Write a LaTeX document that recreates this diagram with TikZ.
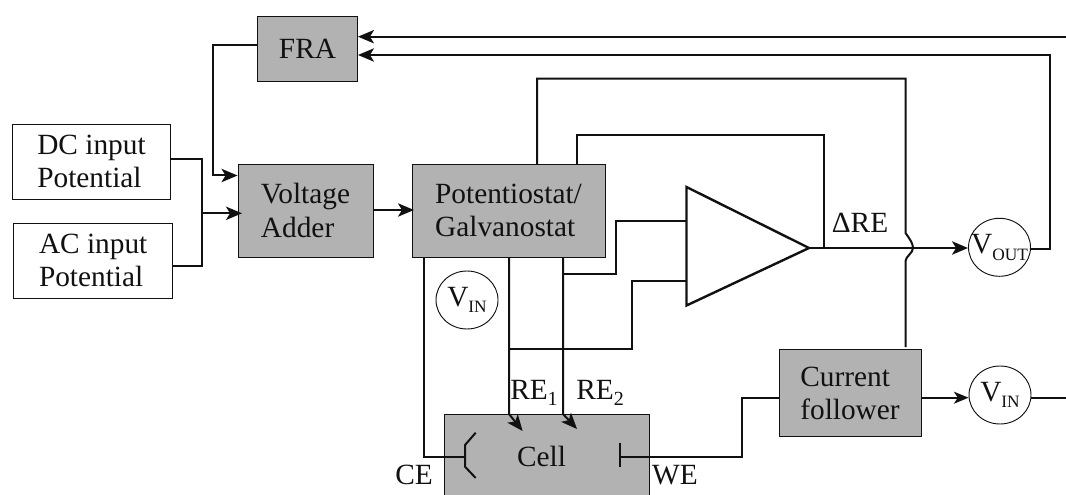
\documentclass[tikz,border=0pt]{standalone}
\usepackage{fontspec}
\setmainfont{Liberation Serif}
\usetikzlibrary{arrows.meta,shapes.geometric}
\definecolor{boxgray}{HTML}{B2B2B2}
\definecolor{inkc}{HTML}{111111}
\newcommand{\subsc}[1]{\raisebox{-0.5ex}{\fontsize{13}{13}\selectfont #1}}
\newcommand{\subnum}[1]{\raisebox{-0.5ex}{\fontsize{15}{15}\selectfont #1}}
\newcommand{\metertext}[1]{\makebox[0pt]{\raisebox{1.5pt}{V\subsc{#1}}}}
\tikzset{
  x=0.75pt,y=-0.75pt,
  basebox/.style={draw=inkc,line width=0.7pt,inner sep=0pt,align=left,font=\fontsize{22}{25}\selectfont,text=inkc},
  whitebox/.style={basebox,fill=white},
  graybox/.style={basebox,fill=boxgray},
  meter/.style={draw=inkc,line width=0.7pt,fill=white,ellipse,inner sep=0pt,minimum width=46.5pt,minimum height=43.5pt,font=\fontsize{22}{25}\selectfont,text=inkc},
  lbl/.style={inner sep=0pt,font=\fontsize{22}{25}\selectfont,text=inkc},
  wire/.style={draw=inkc,line width=1.5pt,line join=miter},
  thinwire/.style={draw=inkc,line width=1.2pt},
  arrowwire/.style={wire,-{Stealth[length=12pt,width=10pt,inset=3pt]}},
  thinarrow/.style={thinwire,-{Stealth[length=11pt,width=9pt,inset=3pt]}},
}
\begin{document}
\begin{tikzpicture}
\useasboundingbox (0,0) rectangle (1066,495);
\clip (0,0) rectangle (1066,495);
% boxes
\node[graybox,minimum width=75pt,minimum height=48.75pt] (fra) at (307.5,48.5) {FRA};
\node[whitebox,minimum width=119pt,minimum height=56.25pt] (dc) at (91.5,161.5) {DC input\\Potential};
\node[whitebox,minimum width=119pt,minimum height=56.25pt] (ac) at (93.2,260.5) {AC input\\Potential};
\node[graybox,minimum width=101.25pt,minimum height=69.75pt] (adder) at (305.5,210.5) {Voltage\\Adder};
\node[graybox,minimum width=144.75pt,minimum height=70pt] (pot) at (508.5,210.7) {Potentiostat/\\Galvanostat};
\node[graybox,minimum width=153.75pt,minimum height=63pt] (cell) at (546.5,456) {Cell\hspace*{7.5pt}};
\node[graybox,minimum width=106.5pt,minimum height=65.25pt] (cf) at (850,393.3) {Current\\follower};
\node[meter] (vin1) at (467,300) {\metertext{IN}};
\node[meter] (vout) at (999.5,247.3) {\metertext{OUT}};
\node[meter] (vin2) at (1000,395) {\metertext{IN}};
% amplifier
\coordinate (ampT) at (686.5,187);
\coordinate (ampB) at (686.5,305.5);
\coordinate (ampO) at (809,248);
\draw[wire,line width=1.8pt] (ampT) -- (ampO) -- (ampB) -- cycle;
% free ends
\coordinate (freeA) at (1066,36.7);
\coordinate (freeB) at (1066,397.7);
% FRA
\draw[arrowwire] (freeA) -- (fra.east |- freeA);
\draw[arrowwire] (vout.east |- 0,249.3) -- (1050,249.3) -- (1050,55) -- (fra.east |- 0,55);
\draw[arrowwire] (fra.west |- 0,45) -- (213,45) -- (213,175.5) -- (adder.west |- 0,175.5);
% inputs
\draw[wire] (dc.east |- 0,159) -- (202,159) -- (202,265.7) -- (ac.east |- 0,265.7);
\draw[arrowwire] (202,213.3) -- (242,213.3);
\draw[arrowwire] (adder.east |- 0,210) -- (414,210);
% potentiostat out
\draw[wire] (537,164) -- (537,78.7) -- (905.5,78.7) -- (905.5,233)
  .. controls (909,238) and (913,243) .. (913,248)
  .. controls (913,253) and (906,256) .. (905.5,261) -- (905.5,347);
\draw[wire] (577,164) -- (577,135) -- (824.3,135) -- (824.3,248);
% amp output
\draw[arrowwire] (ampO) -- (vout.west |- ampO);
% CE / WE
\draw[wire] (424,257) -- (424,456.7) -- (465,456.7);
\draw[wire] (475.7,432.7) -- (465,445) -- (465,466.7) -- (475.7,478);
\draw[wire] (620,442.7) -- (620,467);
\draw[wire] (620,456.7) -- (741.5,456.7) -- (741.5,397.7) -- (cf.west |- 0,397.7);
% cf out
\draw[thinarrow] (cf.east |- 0,397.7) -- (vin2.west |- 0,397.7);
\draw[wire] (vin2.east |- freeB) -- (freeB);
% RE
\draw[arrowwire] (509,258) -- (509,414) -- (522.6,431);
\draw[arrowwire] (563,258) -- (563,414) -- (577,429);
\draw[wire] (563,274.3) -- (615.7,274.3) -- (615.7,220.7) -- (686.5,220.7);
\draw[wire] (509,349) -- (632,349) -- (632,281) -- (686.5,281);
% labels
\node[lbl] (dre) at (860,223) {ΔRE};
\node[lbl] (re1) at (534,393) {RE\subnum{1}};
\node[lbl] (re2) at (600,393) {RE\subnum{2}};
\node[lbl] (ce) at (414,475) {CE};
\node[lbl] (we) at (675,475) {WE};
\end{tikzpicture}
\end{document}
